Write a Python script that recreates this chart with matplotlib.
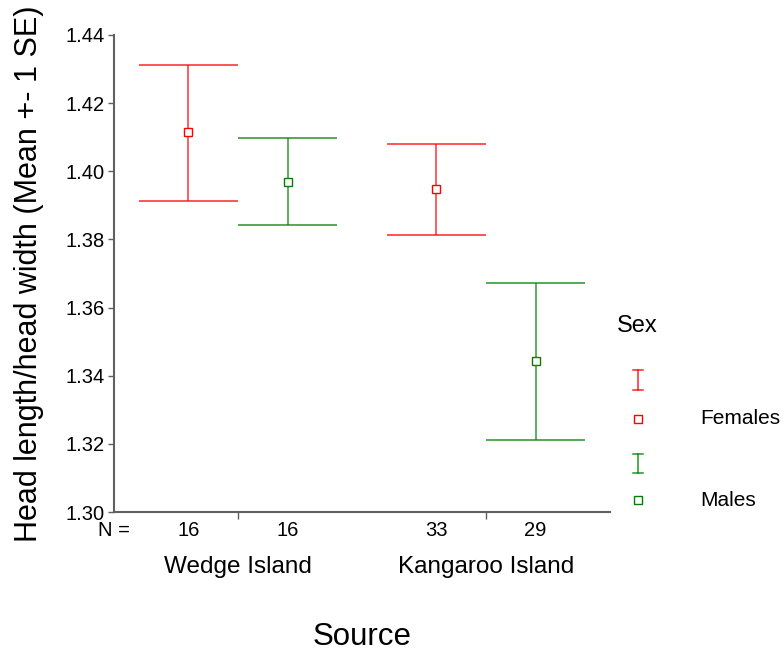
import matplotlib
matplotlib.use("Agg")
import matplotlib.pyplot as plt
from matplotlib.lines import Line2D
import matplotlib.transforms as mtransforms

plt.rcParams['font.family'] = ['Liberation Sans', 'DejaVu Sans']

groups = ["Wedge Island", "Kangaroo Island"]
sexes = ["Females", "Males"]
colors = ["#ff0000", "#008000"]
means = {"Females": [1.4115, 1.3947], "Males": [1.3970, 1.3442]}
upper = {"Females": [1.4313, 1.4080], "Males": [1.4099, 1.3672]}
lower = {"Females": [1.3914, 1.3813], "Males": [1.3843, 1.3211]}
counts = {"Females": [16, 33], "Males": [16, 29]}
yticks = [1.30, 1.32, 1.34, 1.36, 1.38, 1.40, 1.42, 1.44]

W, H = 783, 655
fig = plt.figure(figsize=(W / 100, H / 100), dpi=100)
ax = fig.add_axes([114 / W, 1 - 512 / H, (610 - 114) / W, (512 - 35) / H])

offsets = [-0.2, 0.2]
half = 0.2
for s, sex in enumerate(sexes):
    for g in range(len(groups)):
        x = g + offsets[s]
        c = colors[s]
        ax.vlines(x, lower[sex][g], upper[sex][g], color=c, lw=1.1, alpha=0.8)
        ax.hlines([lower[sex][g], upper[sex][g]], x - half, x + half, color=c, lw=1.1, alpha=0.85)
        ax.plot(x, means[sex][g], marker='s', ms=6, mfc='white', mec=c, mew=1.0, ls='none')

ax.set_xlim(-0.5, 1.5)
ax.set_ylim(1.30, 1.44)
ax.set_yticks(yticks)
ax.set_yticklabels([f"{v:.2f}" for v in yticks], fontsize=14.5)
ax.set_xticks(range(len(groups)))
ax.set_xticklabels([])
ax.tick_params(axis='y', direction='out', length=4, width=1, color='#606060', pad=3)
ax.tick_params(axis='x', direction='out', length=5, width=1, color='#606060')
for sp in ['top', 'right']:
    ax.spines[sp].set_visible(False)
for sp in ['left', 'bottom']:
    ax.spines[sp].set_color('#606060')
    ax.spines[sp].set_linewidth(1.5)

trans = mtransforms.blended_transform_factory(ax.transData, ax.transAxes)
off_n = mtransforms.offset_copy(trans, fig=fig, x=0, y=-19, units='dots')
off_g = mtransforms.offset_copy(trans, fig=fig, x=0, y=-55, units='dots')
for s, sex in enumerate(sexes):
    for g in range(len(groups)):
        ax.text(g + offsets[s], 0, str(counts[sex][g]), transform=off_n,
                ha='center', va='center', fontsize=14.5)
for g, name in enumerate(groups):
    ax.text(g, 0, name, transform=off_g, ha='center', va='center', fontsize=17.5)
fig.text(130 / W, 1 - 531 / H, "N =", ha='right', va='center', fontsize=14.5)

ax.set_ylabel("Head length/head width (Mean +- 1 SE)", fontsize=22)
ax.yaxis.set_label_coords((44 - 114) / 496, 0.5)
fig.text(362 / W, 1 - 637 / H, "Source", ha='center', va='center', fontsize=22.5)

# Legend
fig.text(617 / W, 1 - 326 / H, "Sex", ha='left', va='center', fontsize=17)

def fx(p):
    return p / W

def fy(p):
    return 1 - p / H

legend_items = [(colors[0], 370, 390, 419, "Females"), (colors[1], 454, 473, 500, "Males")]
for c, y0, y1, ysq, lab in legend_items:
    xc = 638
    fig.add_artist(Line2D([fx(xc), fx(xc)], [fy(y0), fy(y1)], color=c, lw=1.1, alpha=0.85))
    fig.add_artist(Line2D([fx(xc - 5), fx(xc + 5)], [fy(y0), fy(y0)], color=c, lw=1.1, alpha=0.85))
    fig.add_artist(Line2D([fx(xc - 5), fx(xc + 5)], [fy(y1), fy(y1)], color=c, lw=1.1, alpha=0.85))
    fig.add_artist(Line2D([fx(xc)], [fy(ysq)], marker='s', ms=6, mfc='white', mec=c, mew=1.0, ls='none'))
    fig.text(700 / W, fy(ysq), lab, ha='left', va='center', fontsize=15)

fig.savefig("out.png", dpi=100)
